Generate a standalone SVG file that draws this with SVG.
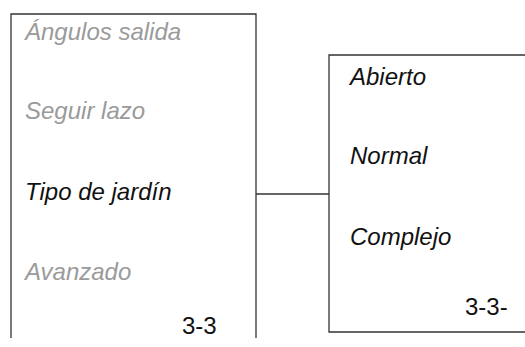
<svg xmlns="http://www.w3.org/2000/svg" width="525" height="347" viewBox="0 0 525 347">
<style>
.box{fill:none;stroke:#333;stroke-width:1.3}
.t{font-family:"Liberation Sans",Arial,sans-serif;font-size:24px;font-style:italic;fill:#111}
.g{fill:#9a9a9a}
.n{font-family:"Liberation Sans",Arial,sans-serif;font-size:24px;fill:#111}
</style>
<rect width="525" height="347" fill="#fff"/>
<g id="menu-left">
<path class="box" d="M11,338 V14 H256 V338"/>
<text class="t g" x="25" y="40">Ángulos salida</text>
<text class="t g" x="25" y="119">Seguir lazo</text>
<text class="t" x="25" y="200">Tipo de jardín</text>
<text class="t g" x="25" y="280">Avanzado</text>
<text class="n" x="182" y="334">3-3</text>
</g>
<g id="menu-right">
<path class="box" d="M526,55 H329 V332 H526"/>
<text class="t" x="350" y="85">Abierto</text>
<text class="t" x="350" y="164">Normal</text>
<text class="t" x="350" y="245">Complejo</text>
<text class="n" x="465" y="315">3-3-</text>
</g>
<g id="connectors">
<line class="box" x1="256" y1="194" x2="329" y2="194"/>
</g>
</svg>
